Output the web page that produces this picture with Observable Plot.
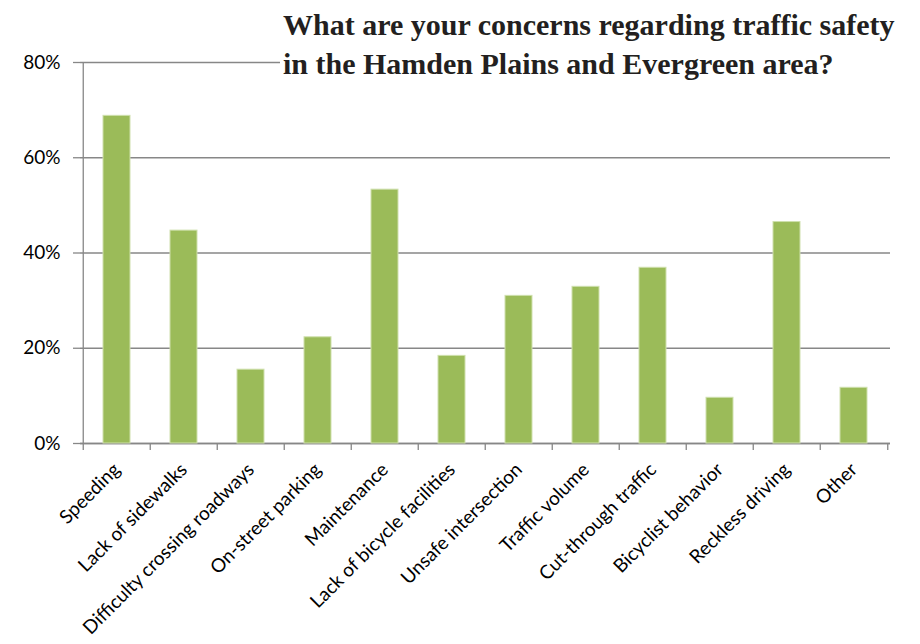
<!DOCTYPE html>
<html><head><meta charset="utf-8">
<script src="https://cdn.jsdelivr.net/npm/d3@7"></script>
<script src="https://cdn.jsdelivr.net/npm/@observablehq/plot@0.6"></script>
<style>
body{margin:0;background:#fff}
#chart{position:relative;width:920px;height:644px}
#chart svg text{font-size:19px;font-family:Lato,sans-serif}
#title{position:absolute;left:280px;top:5px;width:640px;background:#fff;padding-left:3px;
  font-family:"Liberation Serif",serif;font-weight:bold;font-size:30px;line-height:39px;color:#231f20}
</style>
</head><body><div id="chart"><div id="title"></div></div>
<script>
const categories = ["Speeding","Lack of sidewalks","Difficulty crossing roadways","On-street parking","Maintenance","Lack of bicycle facilities","Unsafe intersection","Traffic volume","Cut-through traffic","Bicyclist behavior","Reckless driving","Other"];
const values = [68.8, 44.7, 15.5, 22.3, 53.3, 18.4, 31.0, 32.9, 36.9, 9.6, 46.5, 11.7];
const yTicks = [0, 20, 40, 60, 80];
const titleLines = ["What are your concerns regarding traffic safety", "in the Hamden Plains and Evergreen area?"];

const data = categories.map((c, i) => ({category: c, value: values[i]}));
const W = 920, H = 644, mL = 80, mR = 30, mT = 62, mB = 201;
const step = (W - mL - mR) / categories.length;
const gray = "#878787";

const chart = Plot.plot({
  width: W, height: H, marginLeft: mL, marginRight: mR, marginTop: mT, marginBottom: mB,
  style: {fontFamily: "Lato", fontSize: "19px", color: "#000", background: "#fff", overflow: "visible"},
  x: {domain: categories, paddingInner: 0.6, paddingOuter: 0.3, label: null, axis: null},
  y: {domain: [0, 80], label: null, axis: null},
  marks: [
    Plot.gridY(yTicks, {stroke: gray, strokeOpacity: 1, strokeWidth: 1.3}),
    Plot.axisY(yTicks, {tickSize: 7, tickPadding: 13, tickFormat: d => d + "%", stroke: gray, strokeWidth: 1.3, fill: "#000"}),
    Plot.ruleX([categories[0]], {dx: -step / 2, y1: 0, y2: 80, stroke: gray, strokeWidth: 1.3}),
    Plot.ruleY([0], {stroke: gray, strokeWidth: 1.3}),
    Plot.axisX(categories, {tickSize: 7, tickFormat: () => "", dx: -step / 2, stroke: gray, strokeWidth: 1.3}),
    Plot.axisX([categories[categories.length - 1]], {tickSize: 7, tickFormat: () => "", dx: step / 2, stroke: gray, strokeWidth: 1.3}),
    Plot.axisX(categories, {tickSize: 0, tickRotate: -45, tickPadding: 23, fill: "#000"}),
    Plot.barY(data, {x: "category", y: "value", fill: "#9BBB59", stroke: "#cfe0ad", strokeWidth: 1})
  ]
});
const root = document.getElementById("chart");
root.insertBefore(chart, root.firstChild);
document.getElementById("title").innerHTML = titleLines.join("<br>");
</script>
</body></html>
